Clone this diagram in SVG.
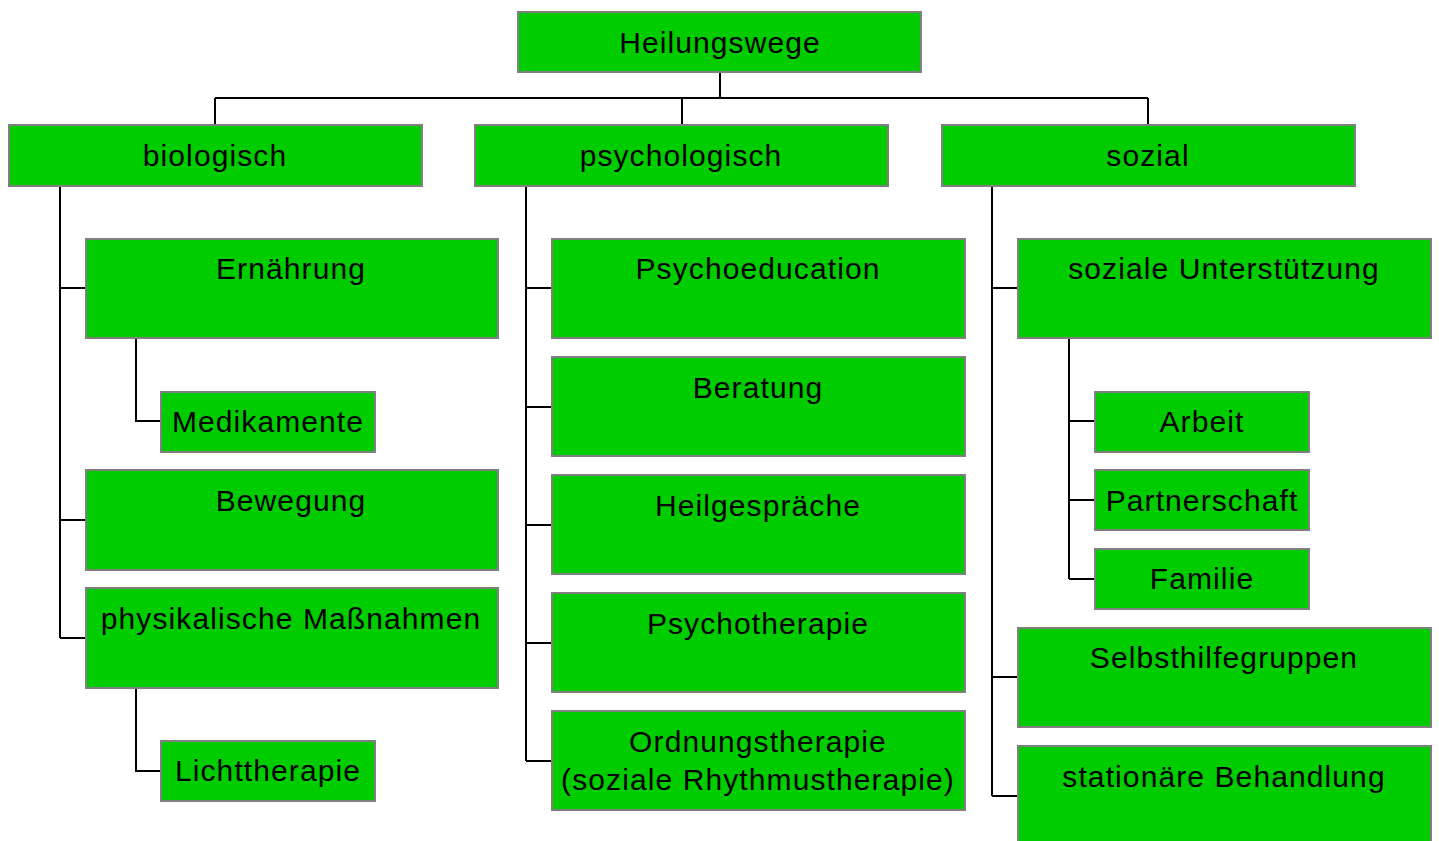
<svg xmlns="http://www.w3.org/2000/svg" width="1439" height="841" viewBox="0 0 1439 841">
  <style>
    .box { fill: #00cc00; stroke: #808080; stroke-width: 2; }
    .lbl { font-family: "Liberation Sans", Arial, sans-serif; font-size: 30px; letter-spacing: 1.1px; fill: #000; text-anchor: middle; }
    .wire { fill: none; stroke: #000; stroke-width: 2; }
  </style>
  <rect width="1439" height="841" fill="#fff"/>

  <g id="connectors">
    <path class="wire" d="M720 72 V98 M215 98 H1148 M215 98 V125 M682 98 V125 M1148 98 V125"/>
    <!-- biologisch -->
    <path class="wire" d="M60 186 V638 M60 288 H85 M60 520 H85 M60 638 H85"/>
    <path class="wire" d="M136 338 V421 H160 M136 688 V771 H160"/>
    <!-- psychologisch -->
    <path class="wire" d="M526 186 V761 M526 288 H552 M526 407 H552 M526 525 H552 M526 643 H552 M526 761 H552"/>
    <!-- sozial -->
    <path class="wire" d="M992 186 V796 M992 288 H1018 M992 677 H1018 M992 796 H1018"/>
    <path class="wire" d="M1069 338 V579 M1069 421 H1095 M1069 500 H1095 M1069 579 H1095"/>
  </g>

  <g id="heilungswege"><rect class="box" x="518" y="12" width="403" height="60"/><text class="lbl" x="720" y="53">Heilungswege</text></g>

  <g id="biologisch"><rect class="box" x="9" y="125" width="413" height="61"/><text class="lbl" x="215" y="166">biologisch</text></g>
  <g id="psychologisch"><rect class="box" x="475" y="125" width="413" height="61"/><text class="lbl" x="681" y="166">psychologisch</text></g>
  <g id="sozial"><rect class="box" x="942" y="125" width="413" height="61"/><text class="lbl" x="1148" y="166">sozial</text></g>

  <g id="ernaehrung"><rect class="box" x="86" y="239" width="412" height="99"/><text class="lbl" x="291" y="279">Ernährung</text></g>
  <g id="medikamente"><rect class="box" x="161" y="392" width="214" height="60"/><text class="lbl" x="268" y="432">Medikamente</text></g>
  <g id="bewegung"><rect class="box" x="86" y="470" width="412" height="100"/><text class="lbl" x="291" y="511">Bewegung</text></g>
  <g id="physikalisch"><rect class="box" x="86" y="588" width="412" height="100"/><text class="lbl" x="291" y="629">physikalische Maßnahmen</text></g>
  <g id="lichttherapie"><rect class="box" x="161" y="741" width="214" height="60"/><text class="lbl" x="268" y="781">Lichttherapie</text></g>

  <g id="psychoeducation"><rect class="box" x="552" y="239" width="413" height="99"/><text class="lbl" x="758" y="279">Psychoeducation</text></g>
  <g id="beratung"><rect class="box" x="552" y="357" width="413" height="99"/><text class="lbl" x="758" y="398">Beratung</text></g>
  <g id="heilgespraeche"><rect class="box" x="552" y="475" width="413" height="99"/><text class="lbl" x="758" y="516">Heilgespräche</text></g>
  <g id="psychotherapie"><rect class="box" x="552" y="593" width="413" height="99"/><text class="lbl" x="758" y="634">Psychotherapie</text></g>
  <g id="ordnungstherapie"><rect class="box" x="552" y="711" width="413" height="99"/><text class="lbl" x="758" y="752">Ordnungstherapie</text><text class="lbl" x="758" y="790">(soziale Rhythmustherapie)</text></g>

  <g id="unterstuetzung"><rect class="box" x="1018" y="239" width="413" height="99"/><text class="lbl" x="1224" y="279">soziale Unterstützung</text></g>
  <g id="arbeit"><rect class="box" x="1095" y="392" width="214" height="60"/><text class="lbl" x="1202" y="432">Arbeit</text></g>
  <g id="partnerschaft"><rect class="box" x="1095" y="470" width="214" height="60"/><text class="lbl" x="1202" y="511">Partnerschaft</text></g>
  <g id="familie"><rect class="box" x="1095" y="549" width="214" height="60"/><text class="lbl" x="1202" y="589">Familie</text></g>
  <g id="selbsthilfe"><rect class="box" x="1018" y="628" width="413" height="99"/><text class="lbl" x="1224" y="668">Selbsthilfegruppen</text></g>
  <g id="stationaer"><rect class="box" x="1018" y="746" width="413" height="99"/><text class="lbl" x="1224" y="787">stationäre Behandlung</text></g>
</svg>
